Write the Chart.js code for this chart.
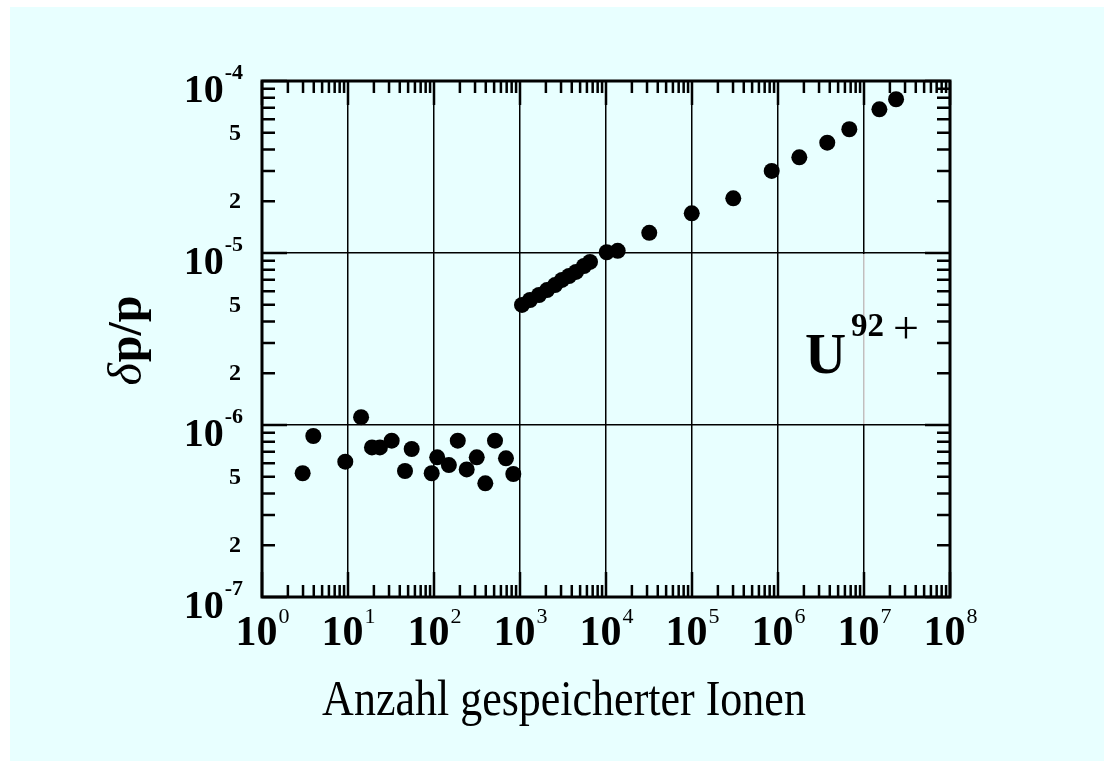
<!DOCTYPE html>
<html>
<head>
<meta charset="utf-8">
<script src="https://cdn.jsdelivr.net/npm/chart.js@4/dist/chart.umd.min.js"></script>
<style>
  html, body { margin: 0; padding: 0; background: #ffffff; }
  #wrap { position: absolute; left: 10px; top: 7px; width: 1094px; height: 754px; background: #e8ffff; }
  canvas { position: absolute; left: -10px; top: -7px; }
</style>
</head>
<body>
<div id="wrap"><canvas id="chart" width="1104" height="761"></canvas></div>
<script>
// lower run (few ions)
const ionsLow = [2.97, 3.95, 9.3, 14.2, 19, 23.5, 32.2, 46, 55, 94, 109, 149, 189, 240, 314, 395, 512, 687, 836];
const dpLow = [5.24e-7, 8.63e-7, 6.12e-7, 1.11e-6, 7.41e-7, 7.41e-7, 8.11e-7, 5.40e-7, 7.25e-7, 5.24e-7,
  6.49e-7, 5.85e-7, 8.11e-7, 5.52e-7, 6.49e-7, 4.58e-7, 8.11e-7, 6.40e-7, 5.19e-7];

// upper run (many ions)
const ionsHigh = [1055, 1307, 1663, 2061, 2553, 3078, 3714, 4478, 5549, 6517,
  10190, 13680, 31850, 99300, 302000, 845000, 1.77e6, 3.74e6, 6.75e6, 1.51e7, 2.36e7];
const dpHigh = [4.99e-6, 5.33e-6, 5.70e-6, 6.09e-6, 6.51e-6, 6.97e-6, 7.35e-6, 7.76e-6, 8.40e-6, 8.87e-6,
  1.01e-5, 1.03e-5, 1.31e-5, 1.70e-5, 2.08e-5, 3.00e-5, 3.60e-5, 4.38e-5, 5.24e-5, 6.84e-5, 7.83e-5];

const xExponents = [0, 1, 2, 3, 4, 5, 6, 7, 8];
const yExponents = [-7, -6, -5, -4];
const minorSteps = [2, 3, 4, 5, 6, 7, 8, 9];
const yMinorLabels = [2, 5];

const xDecades = xExponents.map(e => Math.pow(10, e));
const yDecades = yExponents.map(e => Math.pow(10, e));

const points = ionsLow.map((x, i) => ({ x, y: dpLow[i] }))
  .concat(ionsHigh.map((x, i) => ({ x, y: dpHigh[i] })));

const SERIF = '"Liberation Serif", "DejaVu Serif", serif';

function minorValues(decades) {
  const out = [];
  decades.slice(0, -1).forEach(d => minorSteps.forEach(m => out.push(d * m)));
  return out;
}

function drawPower(ctx, x, y, base, exp, baseFont, expFont, rise, align) {
  ctx.font = baseFont;
  const wb = ctx.measureText(base).width;
  ctx.font = expFont;
  const we = ctx.measureText(exp).width;
  const left = align === 'center' ? x - (wb + we) / 2 : x - wb - we;
  ctx.textAlign = 'left';
  ctx.textBaseline = 'alphabetic';
  ctx.font = baseFont;
  ctx.fillText(base, left, y);
  ctx.font = expFont;
  ctx.fillText(exp, left + wb + 1, y - rise);
}

const framePlugin = {
  id: 'frame',
  afterDraw(chart) {
    const { ctx, chartArea: a, scales } = chart;
    const xs = scales.x, ys = scales.y;
    ctx.save();
    ctx.fillStyle = '#000';

    // the 1e7 grid line is blanked between 1e-6 and 1e-5 in the original
    ctx.strokeStyle = '#ffffff';
    ctx.lineWidth = 1.5;
    ctx.beginPath();
    ctx.moveTo(xs.getPixelForValue(1e7), ys.getPixelForValue(1e-5) + 1);
    ctx.lineTo(xs.getPixelForValue(1e7), ys.getPixelForValue(1e-6) - 1);
    ctx.stroke();
    ctx.strokeStyle = '#000';

    // tick marks inside the frame, all four sides
    ctx.lineWidth = 2.5;
    ctx.beginPath();
    xDecades.forEach(v => {
      const px = xs.getPixelForValue(v);
      ctx.moveTo(px, a.top); ctx.lineTo(px, a.top + 24);
      ctx.moveTo(px, a.bottom); ctx.lineTo(px, a.bottom - 25);
    });
    minorValues(xDecades).forEach(v => {
      const px = xs.getPixelForValue(v);
      ctx.moveTo(px, a.top); ctx.lineTo(px, a.top + 12);
      ctx.moveTo(px, a.bottom); ctx.lineTo(px, a.bottom - 12);
    });
    yDecades.forEach(v => {
      const py = ys.getPixelForValue(v);
      ctx.moveTo(a.left, py); ctx.lineTo(a.left + 25, py);
      ctx.moveTo(a.right, py); ctx.lineTo(a.right - 25, py);
    });
    minorValues(yDecades).forEach(v => {
      const py = ys.getPixelForValue(v);
      ctx.moveTo(a.left, py); ctx.lineTo(a.left + 13, py);
      ctx.moveTo(a.right, py); ctx.lineTo(a.right - 13, py);
    });
    ctx.stroke();

    ctx.lineWidth = 3;
    ctx.strokeRect(a.left, a.top, a.right - a.left, a.bottom - a.top);

    // x tick labels
    xExponents.forEach((e, i) => {
      const px = xs.getPixelForValue(xDecades[i]);
      drawPower(ctx, px, a.bottom + 48, '10', String(e),
        'bold 42px ' + SERIF, '22px ' + SERIF, 22, 'center');
    });

    // y tick labels
    yExponents.forEach((e, i) => {
      const py = ys.getPixelForValue(yDecades[i]);
      drawPower(ctx, 242, py + 21, '10', '-' + Math.abs(e),
        'bold 40px ' + SERIF, 'bold 22px ' + SERIF, 23, 'right');
    });
    ctx.font = 'bold 24px ' + SERIF;
    ctx.textAlign = 'right';
    ctx.textBaseline = 'middle';
    yDecades.slice(0, -1).forEach(d => {
      yMinorLabels.forEach(m => {
        ctx.fillText(String(m), 241, ys.getPixelForValue(d * m) + 1);
      });
    });

    // x axis title, slightly tall like the original typeface
    ctx.save();
    ctx.translate(564, 715);
    ctx.scale(1, 1.15);
    ctx.textAlign = 'center';
    ctx.textBaseline = 'alphabetic';
    ctx.font = '44px ' + SERIF;
    ctx.fillText('Anzahl gespeicherter Ionen', 0, 0);
    ctx.restore();

    // y axis title
    ctx.save();
    ctx.translate(141, 341);
    ctx.rotate(-Math.PI / 2);
    ctx.textAlign = 'left';
    ctx.textBaseline = 'alphabetic';
    const fDelta = 'italic 48px ' + SERIF;
    const fRest = 'bold 48px ' + SERIF;
    ctx.font = fDelta;
    const wd = ctx.measureText('\u03b4').width;
    ctx.font = fRest;
    const wr = ctx.measureText('p/p').width;
    const start = -(wd + wr) / 2;
    ctx.font = fDelta;
    ctx.fillText('\u03b4', start, 0);
    ctx.font = fRest;
    ctx.fillText('p/p', start + wd + 1, 0);
    ctx.restore();

    // ion label
    ctx.textAlign = 'left';
    ctx.textBaseline = 'alphabetic';
    ctx.font = 'bold 57px ' + SERIF;
    ctx.fillText('U', 805, 373);
    ctx.font = 'bold 33px ' + SERIF;
    ctx.fillText('92', 851, 336);
    ctx.font = '46px ' + SERIF;
    ctx.fillText('+', 893, 343);

    ctx.restore();
  }
};

function gridColor(decades) {
  return c => {
    const v = c.tick && c.tick.value;
    return (v === decades[0] || v === decades[decades.length - 1]) ? 'rgba(0,0,0,0)' : '#000';
  };
}

new Chart(document.getElementById('chart'), {
  type: 'scatter',
  data: {
    datasets: [{
      data: points,
      pointRadius: 8,
      pointHoverRadius: 8,
      backgroundColor: '#000',
      borderColor: '#000',
      borderWidth: 0
    }]
  },
  options: {
    responsive: false,
    animation: false,
    events: [],
    layout: { padding: { left: 262, top: 81, right: 154, bottom: 164 } },
    plugins: { legend: { display: false }, tooltip: { enabled: false } },
    scales: {
      x: {
        type: 'logarithmic',
        min: 1,
        max: 1e8,
        afterBuildTicks: s => { s.ticks = xDecades.map(value => ({ value })); },
        ticks: { display: false },
        border: { display: false },
        grid: { color: gridColor(xDecades), lineWidth: 1.5, drawTicks: false }
      },
      y: {
        type: 'logarithmic',
        min: 1e-7,
        max: 1e-4,
        afterBuildTicks: s => { s.ticks = yDecades.map(value => ({ value })); },
        ticks: { display: false },
        border: { display: false },
        grid: { color: gridColor(yDecades), lineWidth: 1.5, drawTicks: false }
      }
    }
  },
  plugins: [framePlugin]
});
</script>
</body>
</html>
